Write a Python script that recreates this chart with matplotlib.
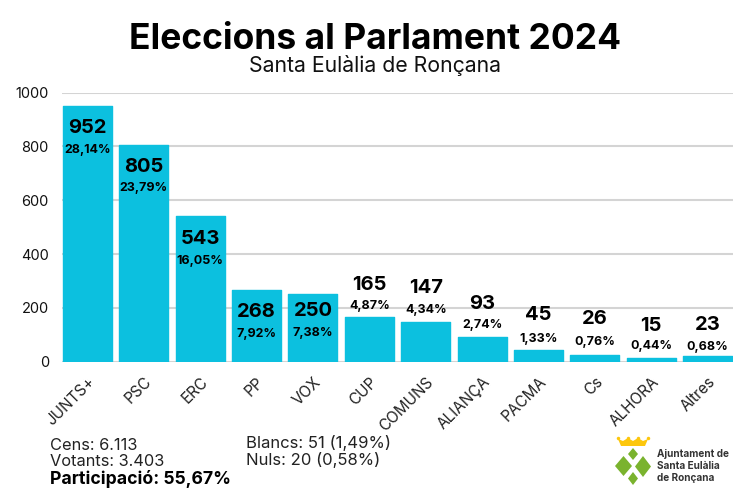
import matplotlib
matplotlib.use("Agg")
import matplotlib.pyplot as plt
from matplotlib.lines import Line2D
from matplotlib.patches import Polygon

parties = ["JUNTS+", "PSC", "ERC", "PP", "VOX", "CUP", "COMUNS", "ALIANÇA", "PACMA", "Cs", "ALHORA", "Altres"]
votes = [952, 805, 543, 268, 250, 165, 147, 93, 45, 26, 15, 23]
percents = ["28,14%", "23,79%", "16,05%", "7,92%", "7,38%", "4,87%", "4,34%", "2,74%", "1,33%", "0,76%", "0,44%", "0,68%"]
yticks = [0, 200, 400, 600, 800, 1000]

# label offsets from the bar top, in pixels (up is positive)
count_px = [-22, -22, -23, -22, -17, 32, 34, 33, 35, 36, 32, 31]
pct_px = [-44, -43, -45, -44, -39, 11, 12, 12, 11, 13, 12, 9]

FONT = "Inter"
BLUE = "#0cc0df"
W, H = 750, 500
plt.rcParams["font.family"] = FONT


def fx(x):
    return x / W


def fy(y):
    return 1 - y / H


def px_pt(p):
    return p * 72 / 100


fig = plt.figure(figsize=(7.5, 5), dpi=100)
ax = fig.add_axes([fx(62), fy(361.7), (733 - 62) / W, (361.7 - 92.7) / H])

x = list(range(len(parties)))
ax.bar(x, votes, width=0.87, color=BLUE, edgecolor=BLUE, linewidth=1, joinstyle="round", zorder=3)
ax.set_xlim(-0.45, len(parties) - 1 + 0.45)
ax.set_ylim(0, 1000)
ax.set_yticks(yticks)
ax.grid(True, axis="y", color="#d4d4d4", linewidth=1.5, zorder=0)
for s in ax.spines.values():
    s.set_visible(False)
ax.tick_params(axis="both", length=0)
ax.tick_params(axis="y", labelsize=10.5, labelcolor="#111111", pad=9.5)
ax.set_xticks(x)
ax.set_xticklabels(parties, rotation=45, ha="right", rotation_mode="anchor", fontsize=11, color="#222222")
ax.tick_params(axis="x", pad=9)

for i, v in enumerate(votes):
    ax.annotate(str(v), (i, v), xytext=(0, px_pt(count_px[i])), textcoords="offset points",
                ha="center", va="center", fontsize=14.5, fontweight="bold", color="black", zorder=5)
    ax.annotate(percents[i], (i, v), xytext=(0, px_pt(pct_px[i])), textcoords="offset points",
                ha="center", va="center", fontsize=9, fontweight="bold", color="black", zorder=5)

fig.text(fx(375), fy(39.5), "Eleccions al Parlament 2024", ha="center", va="center",
         fontsize=25.5, fontweight="bold", color="black")
fig.text(fx(375), fy(66), "Santa Eulàlia de Ronçana", ha="center", va="center", fontsize=15.3, color="#111111")

# vote summary under the chart
fig.text(fx(50), fy(445), "Cens: 6.113", va="center", fontsize=11.8, color="#222222")
fig.text(fx(50), fy(462), "Votants: 3.403", va="center", fontsize=11.8, color="#222222")
fig.text(fx(50), fy(479), "Participació: 55,67%", va="center", fontsize=12.7, fontweight="bold", color="black")
fig.text(fx(246), fy(443), "Blancs: 51 (1,49%)", va="center", fontsize=12, color="#222222")
fig.text(fx(246), fy(460), "Nuls: 20 (0,58%)", va="center", fontsize=12, color="#222222")

# town hall logo
GREEN = "#7ab32e"
YELLOW = "#fdc70c"
diamonds = [
    [(633, 448), (638, 454), (633, 460), (628, 454)],
    [(623.5, 456), (632, 466), (623.5, 476), (615, 466)],
    [(643, 456), (651, 466.5), (643, 477), (635, 466.5)],
    [(633, 472), (638, 478.5), (633, 485), (628, 478.5)],
]
for d in diamonds:
    fig.add_artist(Polygon([(fx(a), fy(b)) for a, b in d], closed=True, transform=fig.transFigure,
                           facecolor=GREEN, edgecolor="none"))
crown = [(618, 439), (623, 441), (628, 438), (633, 441), (638, 438), (643, 441), (648, 439),
         (645, 446), (621, 446)]
fig.add_artist(Polygon([(fx(a), fy(b)) for a, b in crown], closed=True, transform=fig.transFigure,
                       facecolor=YELLOW, edgecolor="none"))
for a in (618, 628, 638, 648):
    fig.add_artist(Line2D([fx(a)], [fy(438)], marker="o", markersize=2.5, color=YELLOW,
                          markeredgewidth=0, transform=fig.transFigure))
for t, yy in [("Ajuntament de", 454), ("Santa Eulàlia", 466), ("de Ronçana", 478)]:
    fig.text(fx(657), fy(yy), t, va="center", fontsize=7.2, fontweight="bold", color="#333333")

fig.savefig("out.png", dpi=100, facecolor="white")
